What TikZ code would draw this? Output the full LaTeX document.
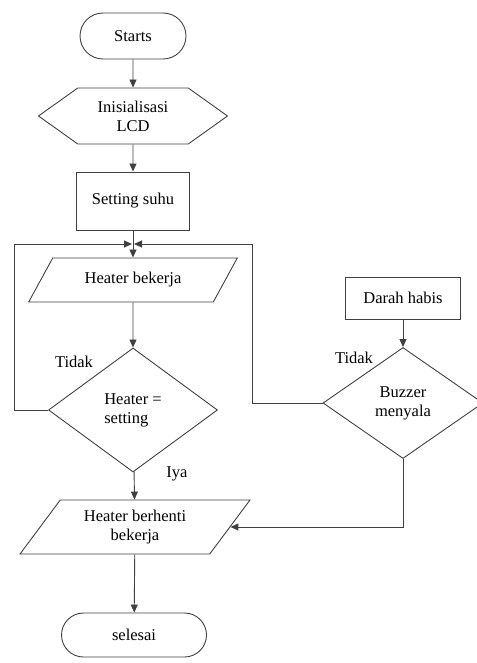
\documentclass[tikz,border=0pt]{standalone}
\usepackage{fontspec}
\setmainfont{Liberation Serif}
\usetikzlibrary{shapes.geometric,shapes.symbols,arrows.meta}

\begin{document}
\begin{tikzpicture}[x=1pt,y=-1pt,
    font=\fontsize{16.5}{19}\selectfont,
    garis/.style={draw=black!75, line width=0.9pt},
    panah/.style={garis, -{Triangle[length=8pt,width=7pt]}},
    kotak/.style={garis, rectangle, inner sep=0pt, align=center},
    jajar/.style={garis, trapezium, trapezium stretches=true, inner sep=0pt, align=center},
    belah/.style={garis, diamond, inner sep=0pt, align=center}]
            \useasboundingbox (0,0) rectangle (476,663);
            \node[kotak, rounded corners=23pt, minimum width=106, minimum height=46] (mulai) at (133,36){Starts};
            \node[garis, signal, signal to=west and east, signal from=nowhere, signal pointer angle=71, inner sep=0pt, align=center, minimum width=189, minimum height=56] (lcd) at (133,116){Inisialisasi\\LCD};
            \node[kotak, minimum width=113, minimum height=58] (setting) at (133,201){Setting suhu};
            \node[jajar, trapezium left angle=46, trapezium right angle=134, minimum width=209, minimum height=44] (bekerja) at (133,280){Heater bekerja};
            \node[belah, minimum width=169, minimum height=124] (cek) at (133,410){\begin{tabular}{@{}l@{}}Heater =\\setting\end{tabular}};
            \node[jajar, trapezium left angle=51, trapezium right angle=129, minimum width=230, minimum height=54] (berhenti) at (135,527){Heater berhenti\\bekerja};
            \node[kotak, rounded corners=22pt, minimum width=145, minimum height=44] (selesai) at (134,635){selesai};
            \node[kotak, minimum width=115, minimum height=42] (darah) at (403,298){Darah habis};
            \node[belah, minimum width=160, minimum height=111] (buzzer) at (403,403){Buzzer\\menyala};
            \node (tidak1) at (74,362){Tidak};
            \node (tidak2) at (354,358){Tidak};
            \node (iya) at (177,474){Iya};
            \coordinate (temu) at (133,244);
            \coordinate (kiri) at (14,244);
            \coordinate (kanan) at (252,244);
            \draw[panah] (mulai) -- (lcd);
            \draw[panah] (lcd) -- (setting);
            \draw[panah] (setting) -- (bekerja);
            \draw[panah] (bekerja) -- (cek);
            \draw[panah] (cek) -- (berhenti);
            \draw[panah] (berhenti) -- (selesai);
            \draw[panah] (darah) -- (buzzer);
            \draw[panah, shorten >=1pt] (cek.west) -| (kiri) -- (temu);
            \draw[panah, shorten >=1pt] (buzzer.west) -| (kanan) -- (temu);
            \draw[panah] (buzzer.south) |- (berhenti.east);
        \end{tikzpicture}
\end{document}
